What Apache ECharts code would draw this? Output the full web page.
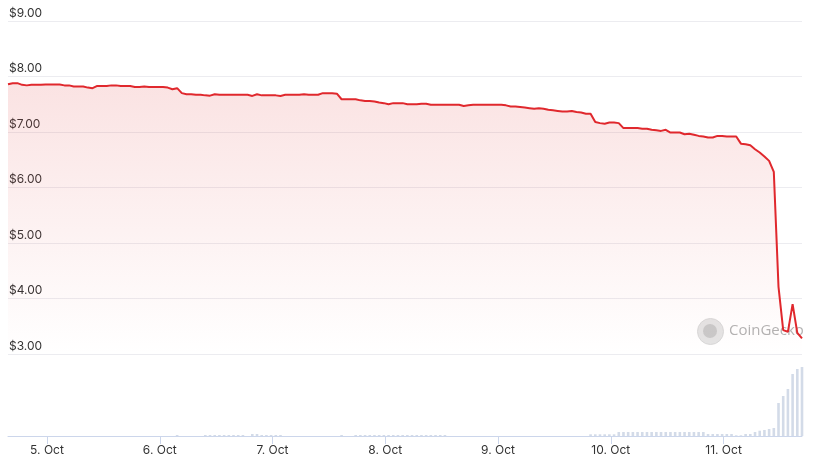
<!DOCTYPE html>
<html>
<head>
<meta charset="utf-8">
<script src="https://cdn.jsdelivr.net/npm/echarts@6/dist/echarts.min.js"></script>
<style>
html,body{margin:0;padding:0;background:#fff;}
#c{width:823px;height:470px;}
</style>
</head>
<body>
<div id="c"></div>
<script>
// Hours since 4 Oct 00:00 of the first hourly sample
var startHour = 15.7;
// Hourly price (USD)
var prices = [
  7.86,7.88,7.88,7.85,7.84,7.85,7.85,7.85,7.855,7.855,
  7.855,7.855,7.84,7.84,7.82,7.82,7.82,7.80,7.79,7.83,
  7.83,7.83,7.84,7.84,7.83,7.83,7.83,7.81,7.81,7.82,
  7.81,7.81,7.81,7.81,7.80,7.77,7.79,7.70,7.68,7.68,
  7.67,7.67,7.66,7.655,7.68,7.67,7.67,7.67,7.67,7.67,
  7.67,7.67,7.65,7.68,7.66,7.66,7.66,7.66,7.65,7.67,
  7.67,7.67,7.67,7.68,7.67,7.67,7.67,7.70,7.70,7.70,
  7.69,7.59,7.59,7.59,7.59,7.57,7.56,7.56,7.55,7.53,
  7.52,7.50,7.52,7.52,7.52,7.50,7.50,7.50,7.51,7.51,
  7.49,7.49,7.49,7.49,7.49,7.49,7.49,7.47,7.48,7.49,
  7.49,7.49,7.49,7.49,7.49,7.49,7.48,7.46,7.46,7.45,
  7.44,7.43,7.42,7.43,7.42,7.40,7.39,7.38,7.37,7.37,
  7.38,7.36,7.35,7.33,7.33,7.18,7.16,7.15,7.17,7.17,
  7.16,7.07,7.07,7.07,7.07,7.06,7.06,7.04,7.03,7.02,
  7.04,6.99,6.99,6.99,6.96,6.97,6.95,6.93,6.92,6.90,
  6.90,6.93,6.93,6.92,6.92,6.92,6.79,6.78,6.76,6.69,
  6.63,6.56,6.48,6.28,4.21,3.43,3.40,3.90,3.38,3.28
];
// Hourly volume (relative units)
var volumes = [
  0,0,0,0,0,0,0,0,0,0,
  0,0,0,0,0,0,0,0,0,0,
  0,0,0,0,0,0,0,0,0,0,
  0,0,0,0,0,0,1,0,0,0,
  0,0,1,1,1,1,1,1,1,1,
  1,0,2,2,1,1,1,1,1,0,
  0,0,0,0,0,0,0,0,0,0,
  0,1,0,0,1,1,1,1,1,1,
  1,1,1,1,1,1,1,1,1,1,
  1,1,1,1,0,0,0,0,0,0,
  0,0,0,0,0,0,0,0,0,0,
  0,0,0,0,0,0,0,0,0,0,
  0,0,0,0,1.7,1.7,1.7,1.7,1.7,1.7,
  4,4,4,4,4,4,4,4,4,4,
  4,4,4,4,4,4,4,4,4,2,
  2,2,2,2,2,0.7,0.7,2,2,4,
  5.3,6,7,8,33,40,47,62,67,69
];
var yTicks = [3, 4, 5, 6, 7, 8, 9];
var dayTickHours = [24, 48, 72, 96, 120, 144, 168];
var dayTickLabels = ['5. Oct','6. Oct','7. Oct','8. Oct','9. Oct','10. Oct','11. Oct'];

var priceData = prices.map(function(v, i){ return [startHour + i, v]; });
var volData = volumes.map(function(v, i){ return [startHour + i, v]; });
var xMin = startHour, xMax = startHour + prices.length - 1;

var chart = echarts.init(document.getElementById('c'), null, {renderer:'canvas'});
var labelColor = '#333333';
chart.setOption({
  animation: false,
  backgroundColor: '#ffffff',
  grid: [
    {left: 8, right: 21, top: 21, height: 333},
    {left: 8, right: 21, top: 354, height: 82}
  ],
  xAxis: [
    {type:'value', gridIndex:0, min:xMin, max:xMax,
     axisLine:{show:false}, axisTick:{show:false}, axisLabel:{show:false}, splitLine:{show:false}},
    {type:'value', gridIndex:1, min:xMin, max:xMax,
     axisLine:{show:true, onZero:false, lineStyle:{color:'#ccd6eb', width:1}},
     axisTick:{show:true, length:8, lineStyle:{color:'#ccd6eb'}, customValues: dayTickHours},
     axisLabel:{show:true, color:labelColor, fontSize:12, fontFamily:'Inter, Roboto, sans-serif', margin:8,
       customValues: dayTickHours,
       formatter: function(v){ var k = dayTickHours.indexOf(Math.round(v)); return k >= 0 ? dayTickLabels[k] : ''; }},
     splitLine:{show:false}}
  ],
  yAxis: [
    {type:'value', gridIndex:0, min:3, max:9, interval:1,
     axisLine:{show:false}, axisTick:{show:false},
     axisLabel:{inside:true, margin:1, verticalAlign:'bottom', padding:[0,0,2,0], color:labelColor, fontSize:12,
       fontFamily:'Inter, Roboto, sans-serif',
       formatter:function(v){ return yTicks.indexOf(v) >= 0 ? '$' + v.toFixed(2) : ''; }},
     splitLine:{show:true, lineStyle:{color:'#ececf0', width:1}}},
    {type:'value', gridIndex:1, min:0, max:82,
     axisLine:{show:false}, axisTick:{show:false}, axisLabel:{show:false}, splitLine:{show:false}}
  ],
  graphic: [
    {type:'circle', left: 697, top: 318, z: 1, shape:{r:13}, style:{fill:'#e4e4e4', stroke:'#d8d8d8', lineWidth:1}},
    {type:'circle', left: 703, top: 324, z: 1, shape:{r:7}, style:{fill:'#c9c9c9'}},
    {type:'text', left: 729, top: 323, z: 1, style:{text:'CoinGecko', fill:'#b3b3b3', font:'15px "Open Sans", Roboto, sans-serif'}}
  ],
  series: [
    {type:'bar', xAxisIndex:1, yAxisIndex:1, data: volData, barWidth: 2.6,
     itemStyle:{color:'#d3dbe8'}, silent:true, z:2},
    {type:'line', xAxisIndex:0, yAxisIndex:0, data: priceData, showSymbol:false, z:3,
     lineStyle:{color:'#e0282d', width:2},
     areaStyle:{origin:'start', color:{type:'linear', x:0, y:0, x2:0, y2:1, colorStops:[
       {offset:0, color:'rgba(226,70,70,0.22)'},
       {offset:1, color:'rgba(226,70,70,0.0)'}]}}}
  ]
});
</script>
</body>
</html>
